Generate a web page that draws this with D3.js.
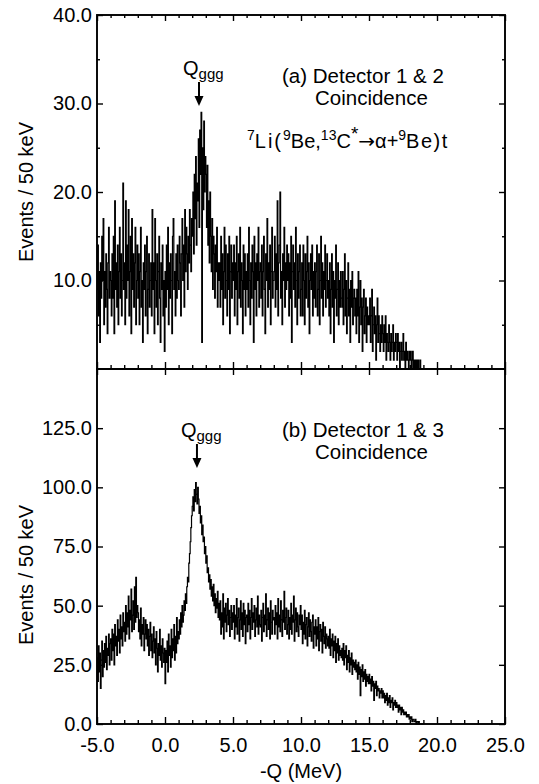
<!DOCTYPE html>
<html>
<head>
<meta charset="utf-8">
<script src="https://cdn.jsdelivr.net/npm/d3@7"></script>
<style>
  body { margin: 0; background: #fff; }
  text { font-family: "Liberation Sans", Arial, Helvetica, sans-serif; }
</style>
</head>
<body>
<div id="chart"></div>
<script>
// histogram bins: first bin starts at -5.0 MeV, 50 keV per bin (one row = 1 MeV)
const binStart = -5;
const binWidth = 0.05;

// (a) Detector 1 & 2 coincidence
const countsA = [
  9, 14, 6, 11, 3, 12, 8, 15, 10, 17, 5, 11, 7, 13, 9, 4, 12, 16, 8, 11,
  10, 6, 13, 8, 15, 4, 19, 9, 12, 7, 14, 5, 11, 16, 8, 13, 6, 10, 21, 9,
  12, 5, 19, 8, 14, 10, 18, 6, 11, 15, 4, 17, 9, 13, 7, 12, 16, 5, 10, 14,
  8, 13, 5, 11, 16, 7, 10, 3, 12, 9, 14, 6, 11, 15, 4, 9, 13, 7, 10, 12,
  6, 18, 9, 12, 4, 17, 10, 7, 13, 5, 11, 15, 8, 3, 12, 9, 14, 6, 10, 2,
  11, 7, 14, 9, 16, 5, 12, 8, 13, 10, 4, 15, 17, 9, 11, 6, 13, 8, 14, 10,
  9, 15, 12, 6, 13, 17, 10, 14, 7, 18, 11, 16, 13, 9, 15, 12, 18, 14, 11, 17,
  15, 20, 13, 22, 17, 24, 14, 21, 19, 26, 16, 27, 22, 29, 3, 25, 18, 28, 20, 24,
  22, 16, 23, 14, 19, 12, 20, 15, 11, 17, 9, 15, 13, 8, 14, 11, 16, 7, 12, 10,
  12, 7, 15, 9, 13, 5, 11, 16, 8, 14, 10, 6, 13, 9, 15, 4, 11, 14, 8, 12,
  10, 14, 6, 12, 9, 15, 5, 11, 13, 8, 16, 7, 12, 10, 4, 14, 9, 13, 6, 11,
  9, 13, 7, 16, 10, 5, 12, 8, 14, 11, 3, 15, 9, 12, 6, 13, 10, 16, 7, 11,
  12, 8, 14, 6, 11, 15, 9, 4, 13, 10, 17, 7, 12, 9, 14, 5, 11, 16, 8, 10,
  11, 15, 7, 13, 9, 19, 6, 12, 14, 20, 8, 11, 5, 13, 10, 16, 7, 12, 9, 14,
  10, 13, 6, 12, 8, 15, 3, 11, 14, 9, 12, 7, 16, 10, 5, 13, 8, 11, 14, 6,
  9, 12, 6, 14, 10, 5, 13, 8, 11, 15, 7, 12, 4, 10, 13, 9, 14, 6, 11, 8,
  12, 7, 11, 14, 6, 9, 13, 5, 10, 15, 8, 12, 6, 11, 9, 14, 7, 10, 13, 8,
  10, 6, 12, 4, 9, 13, 7, 11, 3, 10, 8, 14, 6, 9, 12, 5, 10, 7, 11, 8,
  7, 11, 5, 9, 13, 6, 10, 4, 8, 12, 6, 9, 3, 10, 7, 11, 5, 8, 9, 6,
  8, 4, 9, 6, 11, 3, 7, 10, 5, 8, 2, 7, 9, 4, 6, 8, 3, 7, 5, 6,
  5, 8, 3, 6, 9, 2, 5, 7, 4, 6, 1, 5, 8, 3, 6, 4, 2, 5, 3, 6,
  4, 2, 5, 3, 6, 1, 4, 3, 2, 5, 3, 1, 4, 2, 3, 5, 1, 3, 2, 4,
  3, 1, 4, 2, 3, 0, 2, 3, 1, 2, 4, 1, 2, 0, 3, 1, 2, 1, 0, 2,
  1, 2, 0, 1, 2, 0, 1, 0, 1, 0, 1, 0, 1, 0, 0, 1, 0, 0, 0, 0
];

// (b) Detector 1 & 3 coincidence
const countsB = [
  28, 18, 33, 22, 30, 15, 27, 35, 20, 31, 24, 34, 26, 37, 23, 32, 29, 38, 25, 34,
  36, 27, 40, 31, 38, 25, 42, 33, 37, 29, 44, 35, 40, 30, 46, 36, 41, 33, 47, 39,
  43, 35, 50, 38, 47, 41, 54, 36, 48, 44, 57, 39, 46, 52, 40, 58, 43, 62, 45, 50,
  47, 39, 44, 36, 49, 33, 42, 38, 45, 31, 38, 44, 36, 42, 33, 40, 29, 37, 43, 31,
  38, 28, 35, 41, 30, 36, 25, 39, 32, 22, 34, 29, 40, 27, 33, 24, 36, 30, 26, 32,
  17, 31, 26, 35, 22, 38, 29, 33, 24, 40, 28, 36, 31, 42, 27, 37, 30, 45, 34, 39,
  36, 44, 38, 47, 41, 50, 43, 46, 52, 48, 55, 51, 58, 62, 60, 68, 72, 77, 83, 88,
  92, 96, 90, 99, 94, 102, 97, 93, 100, 95, 89, 92, 85, 88, 80, 84, 77, 79, 72, 75,
  68, 71, 64, 66, 60, 63, 57, 61, 54, 58, 52, 59, 50, 55, 47, 53, 49, 56, 45, 51,
  44, 52, 38, 47, 41, 55, 36, 49, 43, 51, 39, 46, 53, 42, 48, 37, 45, 50, 40, 47,
  43, 50, 36, 46, 41, 53, 38, 45, 49, 35, 44, 52, 40, 47, 37, 51, 42, 48, 34, 45,
  46, 39, 51, 42, 48, 36, 45, 53, 40, 47, 43, 50, 37, 44, 49, 41, 54, 38, 46, 42,
  41, 48, 35, 45, 51, 39, 46, 42, 55, 37, 44, 49, 40, 47, 36, 52, 43, 38, 48, 44,
  45, 38, 50, 42, 47, 36, 53, 41, 46, 39, 52, 44, 37, 48, 43, 56, 40, 45, 49, 38,
  42, 48, 36, 45, 40, 51, 38, 46, 43, 54, 35, 44, 49, 39, 47, 41, 37, 46, 42, 50,
  40, 46, 34, 43, 38, 48, 36, 42, 45, 33, 41, 47, 37, 44, 39, 35, 43, 46, 32, 41,
  38, 44, 33, 41, 36, 45, 31, 39, 42, 35, 40, 30, 43, 37, 34, 41, 32, 38, 36, 33,
  37, 32, 40, 29, 36, 33, 38, 28, 35, 31, 37, 26, 34, 30, 36, 27, 33, 29, 31, 28,
  32, 27, 34, 25, 31, 28, 33, 23, 29, 26, 31, 22, 28, 25, 30, 21, 27, 24, 26, 23,
  27, 22, 25, 19, 26, 21, 24, 12, 23, 20, 25, 18, 22, 19, 23, 16, 21, 18, 20, 17,
  21, 17, 19, 14, 20, 16, 18, 10, 17, 15, 18, 12, 16, 14, 15, 11, 14, 13, 15, 11,
  14, 11, 13, 9, 12, 10, 13, 8, 11, 9, 12, 7, 10, 9, 11, 6, 9, 8, 10, 7,
  9, 7, 8, 5, 8, 6, 7, 4, 7, 5, 6, 4, 5, 4, 5, 3, 4, 3, 4, 2,
  3, 2, 3, 1, 2, 2, 1, 1, 2, 0, 1, 1, 0, 1, 0, 0, 0, 0, 0, 0
];

const xTicks = [-5, 0, 5, 10, 15, 20, 25];
const xMinor = [-4, -3, -2, -1, 1, 2, 3, 4, 6, 7, 8, 9, 11, 12, 13, 14, 16, 17, 18, 19, 21, 22, 23, 24];
const yTicksA = [10, 20, 30, 40];
const yMinorA = [5, 15, 25, 35];
const yTicksB = [0, 25, 50, 75, 100, 125];
const peakA = 2.5;   // Qggg position, MeV
const peakB = 2.35;

const width = 539, height = 784;
const font = '"Liberation Sans", Arial, Helvetica, sans-serif';
const fmt = d => d.toFixed(1);

const svg = d3.select("#chart").append("svg")
  .attr("width", width)
  .attr("height", height);

const x = d3.scaleLinear().domain([-5, 25]).range([97, 505]);
const yA = d3.scaleLinear().domain([0, 40]).range([369, 15]);
const yB = d3.scaleLinear().domain([0, 150]).range([724, 369]);

const stepLine = y => d3.line()
  .x(d => x(d[0]))
  .y(d => y(d[1]))
  .curve(d3.curveStepAfter);

function toBins(counts) {
  const pts = counts.map((c, i) => [binStart + i * binWidth, c]);
  pts.push([binStart + counts.length * binWidth, counts[counts.length - 1]]);
  return pts;
}

function styleAxis(g) {
  g.select(".domain").remove();
  g.attr("font-size", 20).attr("font-family", font);
  g.selectAll("line").attr("stroke", "#000").attr("stroke-width", 1.4);
  g.selectAll("text").attr("fill", "#000");
}

function drawPanel(y, counts, opts) {
  const y0 = y.range()[0], y1 = y.range()[1];

  // data
  svg.append("path")
    .datum(toBins(counts))
    .attr("fill", "none")
    .attr("stroke", "#000")
    .attr("stroke-width", 1.2)
    .attr("d", stepLine(y));

  // bottom ticks (inward)
  svg.append("g").attr("transform", `translate(0,${y0})`)
    .call(d3.axisBottom(x).tickValues(xTicks).tickSize(-7).tickPadding(14)
      .tickFormat(opts.xLabels ? fmt : ""))
    .call(styleAxis);
  svg.append("g").attr("transform", `translate(0,${y0})`)
    .call(d3.axisBottom(x).tickValues(xMinor).tickSize(-4).tickFormat(""))
    .call(styleAxis);

  // top ticks
  svg.append("g").attr("transform", `translate(0,${y1})`)
    .call(d3.axisTop(x).tickValues(xTicks).tickSize(-6).tickFormat(""))
    .call(styleAxis);
  if (opts.topMinor) {
    svg.append("g").attr("transform", `translate(0,${y1})`)
      .call(d3.axisTop(x).tickValues(xMinor).tickSize(-3).tickFormat(""))
      .call(styleAxis);
  }

  // left and right ticks
  svg.append("g").attr("transform", `translate(${x.range()[0]},0)`)
    .call(d3.axisLeft(y).tickValues(opts.yTicks).tickSize(-6).tickPadding(5).tickFormat(fmt))
    .call(styleAxis);
  svg.append("g").attr("transform", `translate(${x.range()[1]},0)`)
    .call(d3.axisRight(y).tickValues(opts.yTicks).tickSize(-6).tickFormat(""))
    .call(styleAxis);
  if (opts.yMinor) {
    svg.append("g").attr("transform", `translate(${x.range()[0]},0)`)
      .call(d3.axisLeft(y).tickValues(opts.yMinor).tickSize(-3).tickFormat(""))
      .call(styleAxis);
    svg.append("g").attr("transform", `translate(${x.range()[1]},0)`)
      .call(d3.axisRight(y).tickValues(opts.yMinor).tickSize(-3).tickFormat(""))
      .call(styleAxis);
  }

  // frame
  svg.append("rect")
    .attr("x", x.range()[0]).attr("y", y1)
    .attr("width", x.range()[1] - x.range()[0])
    .attr("height", y0 - y1)
    .attr("fill", "none")
    .attr("stroke", "#000")
    .attr("stroke-width", 1.9);

  // y axis title
  svg.append("text")
    .attr("transform", `translate(33,${opts.labelY}) rotate(-90)`)
    .attr("text-anchor", "middle")
    .attr("font-size", 20)
    .text("Events / 50 keV");

  // Qggg marker
  const q = svg.append("text")
    .attr("x", x(opts.peak) - 16)
    .attr("y", y1 + opts.qDy)
    .attr("font-size", 20);
  q.append("tspan").text("Q");
  q.append("tspan").attr("font-size", 15).attr("dy", 4).text("ggg");

  const ax = x(opts.peak);
  const top = y1 + opts.qDy + 7, tip = y1 + opts.qDy + 31;
  svg.append("line")
    .attr("x1", ax).attr("x2", ax)
    .attr("y1", top).attr("y2", tip - 6)
    .attr("stroke", "#000").attr("stroke-width", 2);
  svg.append("path")
    .attr("d", `M${ax - 4.5},${tip - 10}L${ax + 4.5},${tip - 10}L${ax},${tip}Z`)
    .attr("fill", "#000");

  // panel caption
  svg.append("text").attr("x", 282).attr("y", y1 + 68)
    .attr("font-size", 20.5).text(opts.title);
  svg.append("text").attr("x", 315).attr("y", y1 + 90)
    .attr("font-size", 20.5).text("Coincidence");
}

drawPanel(yA, countsA, {
  xLabels: false, topMinor: true, yTicks: yTicksA, yMinor: yMinorA,
  labelY: 192, peak: peakA, qDy: 60, title: "(a) Detector 1 & 2"
});
drawPanel(yB, countsB, {
  xLabels: true, topMinor: false, yTicks: yTicksB, yMinor: null,
  labelY: 575, peak: peakB, qDy: 68, title: "(b) Detector 1 & 3"
});

// reaction label with superscripts
const reaction = [
  ["7", true], ["Li(", false], ["9", true], ["Be,", false], ["13", true],
  ["C", false], ["*", true], ["\u2192", false], ["\u03b1+", false], ["9", true], ["Be)t", false]
];
const rt = svg.append("text").attr("x", 247).attr("y", 148).attr("font-size", 20);
let up = false;
reaction.forEach(([s, sup]) => {
  const t = rt.append("tspan").text(s);
  if (sup) {
    t.attr("font-size", s === "*" ? 19 : 14);
    if (!up) t.attr("dy", -8);
    up = true;
  } else {
    if (up) t.attr("dy", 8);
    up = false;
  }
  if (s === "Li(") t.attr("letter-spacing", 2);
  if (s === "\u2192") t.attr("font-family", '"DejaVu Sans", sans-serif').attr("font-size", 20);
  if (s === "Be)t") t.attr("letter-spacing", 1.5);
});

// x axis title
svg.append("text")
  .attr("x", (x.range()[0] + x.range()[1]) / 2)
  .attr("y", 778)
  .attr("text-anchor", "middle")
  .attr("font-size", 20)
  .text("-Q (MeV)");
</script>
</body>
</html>
